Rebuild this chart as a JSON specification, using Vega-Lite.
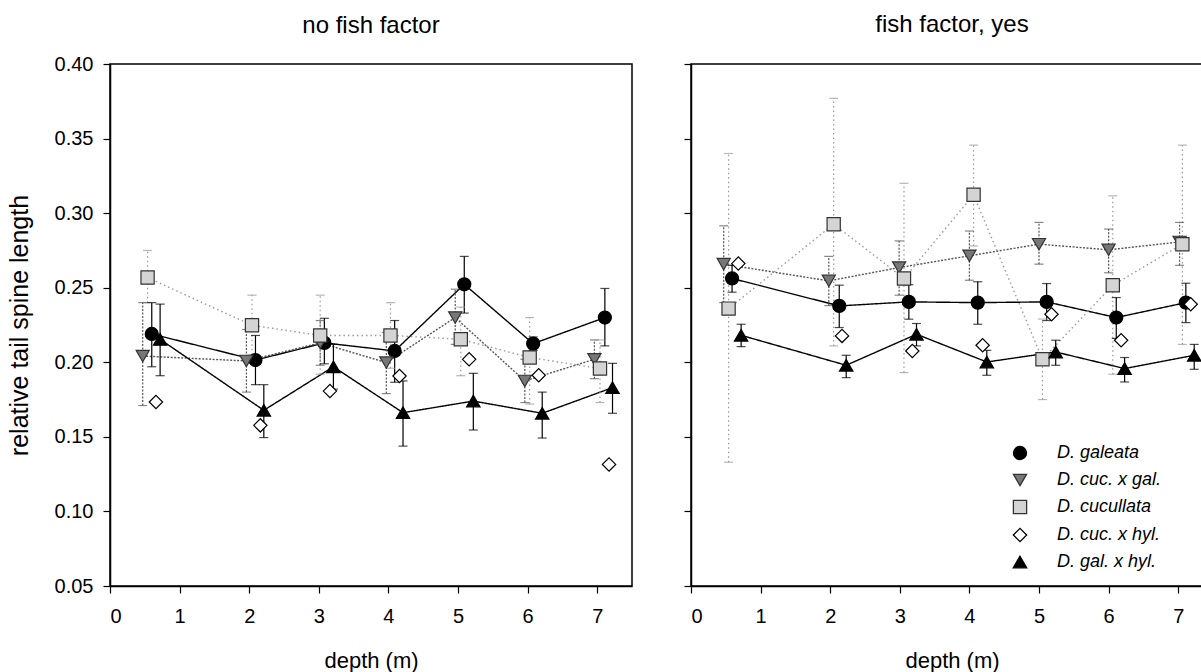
{
  "$schema": "https://vega.github.io/schema/vega-lite/v6.json",
  "padding": {"left": 6, "top": 12, "right": 0, "bottom": 0},
  "background": "white",
  "config": {
    "font": "Liberation Sans",
    "view": {"stroke": "black", "strokeWidth": 1.5},
    "axis": {"domainColor": "black", "domainWidth": 1.5, "tickColor": "black", "tickWidth": 1.2, "tickSize": 7, "labelFontSize": 20, "labelColor": "black", "labelFont": "Liberation Sans", "titleFont": "Liberation Sans", "titleFontWeight": "normal", "titleColor": "black", "grid": false},
    "axisX": {"labelPadding": 13, "titlePadding": 24, "titleFontSize": 22},
    "axisY": {"labelPadding": 10, "titlePadding": 22, "titleFontSize": 25},
    "title": {"fontSize": 24, "fontWeight": "normal", "font": "Liberation Sans", "anchor": "middle", "color": "black"}
  },
  "datasets": {
    "d": [
      {"panel": "no", "species": "D. galeata", "depth": 0.60, "value": 0.219, "lo": 0.197, "hi": 0.240},
      {"panel": "no", "species": "D. galeata", "depth": 2.09, "value": 0.2015, "lo": 0.185, "hi": 0.218},
      {"panel": "no", "species": "D. galeata", "depth": 3.08, "value": 0.213, "lo": 0.199, "hi": 0.2295},
      {"panel": "no", "species": "D. galeata", "depth": 4.09, "value": 0.2076, "lo": 0.1866, "hi": 0.228},
      {"panel": "no", "species": "D. galeata", "depth": 5.09, "value": 0.2523, "lo": 0.233, "hi": 0.271},
      {"panel": "no", "species": "D. galeata", "depth": 6.08, "value": 0.2125, "lo": 0.208, "hi": 0.217},
      {"panel": "no", "species": "D. galeata", "depth": 7.11, "value": 0.230, "lo": 0.211, "hi": 0.2495},
      {"panel": "no", "species": "D. cuc. x gal.", "depth": 0.47, "value": 0.2042, "lo": 0.171, "hi": 0.240},
      {"panel": "no", "species": "D. cuc. x gal.", "depth": 1.96, "value": 0.2009, "lo": 0.180, "hi": 0.222},
      {"panel": "no", "species": "D. cuc. x gal.", "depth": 3.02, "value": 0.213, "lo": 0.198, "hi": 0.228},
      {"panel": "no", "species": "D. cuc. x gal.", "depth": 3.97, "value": 0.1998, "lo": 0.179, "hi": 0.220},
      {"panel": "no", "species": "D. cuc. x gal.", "depth": 4.96, "value": 0.230, "lo": 0.212, "hi": 0.249},
      {"panel": "no", "species": "D. cuc. x gal.", "depth": 5.96, "value": 0.1875, "lo": 0.173, "hi": 0.202},
      {"panel": "no", "species": "D. cuc. x gal.", "depth": 6.96, "value": 0.202, "lo": 0.189, "hi": 0.215},
      {"panel": "no", "species": "D. cucullata", "depth": 0.54, "value": 0.2568, "lo": 0.240, "hi": 0.275},
      {"panel": "no", "species": "D. cucullata", "depth": 2.04, "value": 0.2248, "lo": 0.205, "hi": 0.245},
      {"panel": "no", "species": "D. cucullata", "depth": 3.02, "value": 0.218, "lo": 0.192, "hi": 0.245},
      {"panel": "no", "species": "D. cucullata", "depth": 4.03, "value": 0.218, "lo": 0.196, "hi": 0.240},
      {"panel": "no", "species": "D. cucullata", "depth": 5.04, "value": 0.2154, "lo": 0.191, "hi": 0.237},
      {"panel": "no", "species": "D. cucullata", "depth": 6.03, "value": 0.2032, "lo": 0.172, "hi": 0.230},
      {"panel": "no", "species": "D. cucullata", "depth": 7.04, "value": 0.1958, "lo": 0.173, "hi": 0.215},
      {"panel": "no", "species": "D. cuc. x hyl.", "depth": 0.66, "value": 0.1734, "lo": null, "hi": null},
      {"panel": "no", "species": "D. cuc. x hyl.", "depth": 2.16, "value": 0.1577, "lo": null, "hi": null},
      {"panel": "no", "species": "D. cuc. x hyl.", "depth": 3.16, "value": 0.1807, "lo": null, "hi": null},
      {"panel": "no", "species": "D. cuc. x hyl.", "depth": 4.16, "value": 0.1908, "lo": null, "hi": null},
      {"panel": "no", "species": "D. cuc. x hyl.", "depth": 5.16, "value": 0.202, "lo": null, "hi": null},
      {"panel": "no", "species": "D. cuc. x hyl.", "depth": 6.16, "value": 0.1913, "lo": null, "hi": null},
      {"panel": "no", "species": "D. cuc. x hyl.", "depth": 7.17, "value": 0.1315, "lo": null, "hi": null},
      {"panel": "no", "species": "D. gal. x hyl.", "depth": 0.72, "value": 0.2154, "lo": 0.191, "hi": 0.239},
      {"panel": "no", "species": "D. gal. x hyl.", "depth": 2.21, "value": 0.1678, "lo": 0.1495, "hi": 0.185},
      {"panel": "no", "species": "D. gal. x hyl.", "depth": 3.21, "value": 0.197, "lo": 0.182, "hi": 0.212},
      {"panel": "no", "species": "D. gal. x hyl.", "depth": 4.21, "value": 0.1662, "lo": 0.1438, "hi": 0.1875},
      {"panel": "no", "species": "D. gal. x hyl.", "depth": 5.22, "value": 0.174, "lo": 0.1546, "hi": 0.1926},
      {"panel": "no", "species": "D. gal. x hyl.", "depth": 6.21, "value": 0.1658, "lo": 0.1492, "hi": 0.180},
      {"panel": "no", "species": "D. gal. x hyl.", "depth": 7.22, "value": 0.183, "lo": 0.1658, "hi": 0.1993},
      {"panel": "yes", "species": "D. galeata", "depth": 0.59, "value": 0.2562, "lo": 0.247, "hi": 0.265},
      {"panel": "yes", "species": "D. galeata", "depth": 2.13, "value": 0.2378, "lo": 0.2233, "hi": 0.2517},
      {"panel": "yes", "species": "D. galeata", "depth": 3.13, "value": 0.2405, "lo": 0.2289, "hi": 0.252},
      {"panel": "yes", "species": "D. galeata", "depth": 4.12, "value": 0.240, "lo": 0.2255, "hi": 0.254},
      {"panel": "yes", "species": "D. galeata", "depth": 5.11, "value": 0.2405, "lo": 0.228, "hi": 0.2528},
      {"panel": "yes", "species": "D. galeata", "depth": 6.11, "value": 0.230, "lo": 0.216, "hi": 0.2434},
      {"panel": "yes", "species": "D. galeata", "depth": 7.11, "value": 0.240, "lo": 0.2266, "hi": 0.253},
      {"panel": "yes", "species": "D. cuc. x gal.", "depth": 0.47, "value": 0.2658, "lo": 0.240, "hi": 0.2915},
      {"panel": "yes", "species": "D. cuc. x gal.", "depth": 1.98, "value": 0.2546, "lo": 0.238, "hi": 0.271},
      {"panel": "yes", "species": "D. cuc. x gal.", "depth": 2.99, "value": 0.2635, "lo": 0.245, "hi": 0.2814},
      {"panel": "yes", "species": "D. cuc. x gal.", "depth": 4.00, "value": 0.2714, "lo": 0.255, "hi": 0.288},
      {"panel": "yes", "species": "D. cuc. x gal.", "depth": 5.00, "value": 0.2792, "lo": 0.2658, "hi": 0.2938},
      {"panel": "yes", "species": "D. cuc. x gal.", "depth": 6.00, "value": 0.2754, "lo": 0.260, "hi": 0.2893},
      {"panel": "yes", "species": "D. cuc. x gal.", "depth": 7.02, "value": 0.2807, "lo": 0.265, "hi": 0.2938},
      {"panel": "yes", "species": "D. cucullata", "depth": 0.54, "value": 0.236, "lo": 0.133, "hi": 0.340},
      {"panel": "yes", "species": "D. cucullata", "depth": 2.05, "value": 0.2926, "lo": 0.211, "hi": 0.377},
      {"panel": "yes", "species": "D. cucullata", "depth": 3.06, "value": 0.2562, "lo": 0.1931, "hi": 0.320},
      {"panel": "yes", "species": "D. cucullata", "depth": 4.06, "value": 0.3123, "lo": 0.278, "hi": 0.3456},
      {"panel": "yes", "species": "D. cucullata", "depth": 5.05, "value": 0.202, "lo": 0.175, "hi": 0.229},
      {"panel": "yes", "species": "D. cucullata", "depth": 6.06, "value": 0.2517, "lo": 0.192, "hi": 0.3116},
      {"panel": "yes", "species": "D. cucullata", "depth": 7.06, "value": 0.2792, "lo": 0.212, "hi": 0.3456},
      {"panel": "yes", "species": "D. cuc. x hyl.", "depth": 0.68, "value": 0.2662, "lo": null, "hi": null},
      {"panel": "yes", "species": "D. cuc. x hyl.", "depth": 2.17, "value": 0.2177, "lo": null, "hi": null},
      {"panel": "yes", "species": "D. cuc. x hyl.", "depth": 3.18, "value": 0.2076, "lo": null, "hi": null},
      {"panel": "yes", "species": "D. cuc. x hyl.", "depth": 4.19, "value": 0.2114, "lo": null, "hi": null},
      {"panel": "yes", "species": "D. cuc. x hyl.", "depth": 5.18, "value": 0.2322, "lo": null, "hi": null},
      {"panel": "yes", "species": "D. cuc. x hyl.", "depth": 6.18, "value": 0.2148, "lo": null, "hi": null},
      {"panel": "yes", "species": "D. cuc. x hyl.", "depth": 7.18, "value": 0.2389, "lo": null, "hi": null},
      {"panel": "yes", "species": "D. gal. x hyl.", "depth": 0.72, "value": 0.2181, "lo": 0.2105, "hi": 0.2255},
      {"panel": "yes", "species": "D. gal. x hyl.", "depth": 2.23, "value": 0.198, "lo": 0.1897, "hi": 0.2047},
      {"panel": "yes", "species": "D. gal. x hyl.", "depth": 3.24, "value": 0.2188, "lo": 0.211, "hi": 0.226},
      {"panel": "yes", "species": "D. gal. x hyl.", "depth": 4.25, "value": 0.2002, "lo": 0.1913, "hi": 0.208},
      {"panel": "yes", "species": "D. gal. x hyl.", "depth": 5.24, "value": 0.2069, "lo": 0.198, "hi": 0.2148},
      {"panel": "yes", "species": "D. gal. x hyl.", "depth": 6.23, "value": 0.1958, "lo": 0.1868, "hi": 0.2032},
      {"panel": "yes", "species": "D. gal. x hyl.", "depth": 7.23, "value": 0.2047, "lo": 0.1953, "hi": 0.212}
    ]
  },
  "spacing": 49,
  "resolve": {
    "scale": {"shape": "independent", "fill": "independent", "stroke": "independent", "size": "independent", "color": "independent", "strokeDash": "independent"},
    "legend": {"shape": "independent", "fill": "independent", "stroke": "independent", "size": "independent", "color": "independent", "strokeDash": "independent"}
  },
  "hconcat": [
    {
      "width": 522, "height": 522,
      "title": {"text": "no fish factor", "offset": 16},
      "data": {"name": "d"},
      "transform": [{"filter": "datum.panel === 'no'"}],
      "encoding": {
        "x": {"field": "depth", "type": "quantitative", "scale": {"domain": [0, 7.5], "nice": false, "zero": false}, "axis": {"values": [0, 1, 2, 3, 4, 5, 6, 7], "format": "d", "title": "depth (m)"}}
      },
      "layer": [
        {
          "transform": [{"filter": "datum.species !== 'D. cuc. x hyl.'"}],
          "mark": {"type": "line", "strokeWidth": 1.4},
          "encoding": {
            "y": {"field": "value", "type": "quantitative", "scale": {"domain": [0.05, 0.4], "nice": false, "zero": false}, "axis": {"values": [0.05, 0.1, 0.15, 0.2, 0.25, 0.3, 0.35, 0.4], "format": ".2f", "title": "relative tail spine length"}},
            "color": {"field": "species", "type": "nominal", "scale": {"domain": ["D. galeata", "D. cuc. x gal.", "D. cucullata", "D. gal. x hyl."], "range": ["#000000", "#555555", "#999999", "#000000"]}, "legend": null},
            "strokeDash": {"field": "species", "type": "nominal", "scale": {"domain": ["D. galeata", "D. cuc. x gal.", "D. cucullata", "D. gal. x hyl."], "range": [[1, 0], [2, 1.5], [1.5, 3], [1, 0]]}, "legend": null}
          }
        },
        {
          "transform": [{"filter": "datum.lo != null"}],
          "mark": {"type": "rule", "strokeWidth": 1.2},
          "encoding": {
            "y": {"field": "lo", "type": "quantitative", "scale": {"domain": [0.05, 0.4], "nice": false, "zero": false}, "axis": {"values": [0.05, 0.1, 0.15, 0.2, 0.25, 0.3, 0.35, 0.4], "format": ".2f", "title": "relative tail spine length"}},
            "y2": {"field": "hi"},
            "color": {"field": "species", "type": "nominal", "legend": null},
            "strokeDash": {"field": "species", "type": "nominal", "legend": null}
          }
        },
        {
          "transform": [{"filter": "datum.lo != null"}],
          "mark": {"type": "tick", "orient": "horizontal", "size": 9, "thickness": 1.2},
          "encoding": {
            "y": {"field": "lo", "type": "quantitative", "scale": {"domain": [0.05, 0.4], "nice": false, "zero": false}, "axis": {"values": [0.05, 0.1, 0.15, 0.2, 0.25, 0.3, 0.35, 0.4], "format": ".2f", "title": "relative tail spine length"}},
            "color": {"field": "species", "type": "nominal", "legend": null}
          }
        },
        {
          "transform": [{"filter": "datum.lo != null"}],
          "mark": {"type": "tick", "orient": "horizontal", "size": 9, "thickness": 1.2},
          "encoding": {
            "y": {"field": "hi", "type": "quantitative", "scale": {"domain": [0.05, 0.4], "nice": false, "zero": false}, "axis": {"values": [0.05, 0.1, 0.15, 0.2, 0.25, 0.3, 0.35, 0.4], "format": ".2f", "title": "relative tail spine length"}},
            "color": {"field": "species", "type": "nominal", "legend": null}
          }
        },
        {
          "mark": {"type": "point", "strokeWidth": 1.2, "opacity": 1, "filled": true},
          "encoding": {
            "y": {"field": "value", "type": "quantitative", "scale": {"domain": [0.05, 0.4], "nice": false, "zero": false}, "axis": {"values": [0.05, 0.1, 0.15, 0.2, 0.25, 0.3, 0.35, 0.4], "format": ".2f", "title": "relative tail spine length"}},
            "shape": {"field": "species", "type": "nominal", "scale": {"domain": ["D. galeata", "D. cuc. x gal.", "D. cucullata", "D. cuc. x hyl.", "D. gal. x hyl."], "range": ["circle", "triangle-down", "square", "diamond", "triangle-up"]}, "legend": null},
            "size": {"field": "species", "type": "nominal", "scale": {"domain": ["D. galeata", "D. cuc. x gal.", "D. cucullata", "D. cuc. x hyl.", "D. gal. x hyl."], "range": [170, 180, 144, 225, 180]}, "legend": null},
            "fill": {"field": "species", "type": "nominal", "scale": {"domain": ["D. galeata", "D. cuc. x gal.", "D. cucullata", "D. cuc. x hyl.", "D. gal. x hyl."], "range": ["#000000", "#777777", "#d4d4d4", "#ffffff", "#000000"]}, "legend": null},
            "stroke": {"field": "species", "type": "nominal", "scale": {"domain": ["D. galeata", "D. cuc. x gal.", "D. cucullata", "D. cuc. x hyl.", "D. gal. x hyl."], "range": ["#000000", "#333333", "#333333", "#000000", "#000000"]}, "legend": null}
          }
        }
      ]
    },
    {
      "width": 522, "height": 522,
      "title": {"text": "fish factor, yes", "offset": 26},
      "data": {"name": "d"},
      "transform": [{"filter": "datum.panel === 'yes'"}],
      "encoding": {
        "x": {"field": "depth", "type": "quantitative", "scale": {"domain": [0, 7.5], "nice": false, "zero": false}, "axis": {"values": [0, 1, 2, 3, 4, 5, 6, 7], "format": "d", "title": "depth (m)"}}
      },
      "layer": [
        {
          "transform": [{"filter": "datum.species !== 'D. cuc. x hyl.'"}],
          "mark": {"type": "line", "strokeWidth": 1.4},
          "encoding": {
            "y": {"field": "value", "type": "quantitative", "scale": {"domain": [0.05, 0.4], "nice": false, "zero": false}, "axis": {"values": [0.05, 0.1, 0.15, 0.2, 0.25, 0.3, 0.35, 0.4], "labels": false, "title": null}},
            "color": {"field": "species", "type": "nominal", "scale": {"domain": ["D. galeata", "D. cuc. x gal.", "D. cucullata", "D. gal. x hyl."], "range": ["#000000", "#555555", "#999999", "#000000"]}, "legend": null},
            "strokeDash": {"field": "species", "type": "nominal", "scale": {"domain": ["D. galeata", "D. cuc. x gal.", "D. cucullata", "D. gal. x hyl."], "range": [[1, 0], [2, 1.5], [1.5, 3], [1, 0]]}, "legend": null}
          }
        },
        {
          "transform": [{"filter": "datum.lo != null"}],
          "mark": {"type": "rule", "strokeWidth": 1.2},
          "encoding": {
            "y": {"field": "lo", "type": "quantitative", "scale": {"domain": [0.05, 0.4], "nice": false, "zero": false}, "axis": {"values": [0.05, 0.1, 0.15, 0.2, 0.25, 0.3, 0.35, 0.4], "labels": false, "title": null}},
            "y2": {"field": "hi"},
            "color": {"field": "species", "type": "nominal", "legend": null},
            "strokeDash": {"field": "species", "type": "nominal", "legend": null}
          }
        },
        {
          "transform": [{"filter": "datum.lo != null"}],
          "mark": {"type": "tick", "orient": "horizontal", "size": 9, "thickness": 1.2},
          "encoding": {
            "y": {"field": "lo", "type": "quantitative", "scale": {"domain": [0.05, 0.4], "nice": false, "zero": false}, "axis": {"values": [0.05, 0.1, 0.15, 0.2, 0.25, 0.3, 0.35, 0.4], "labels": false, "title": null}},
            "color": {"field": "species", "type": "nominal", "legend": null}
          }
        },
        {
          "transform": [{"filter": "datum.lo != null"}],
          "mark": {"type": "tick", "orient": "horizontal", "size": 9, "thickness": 1.2},
          "encoding": {
            "y": {"field": "hi", "type": "quantitative", "scale": {"domain": [0.05, 0.4], "nice": false, "zero": false}, "axis": {"values": [0.05, 0.1, 0.15, 0.2, 0.25, 0.3, 0.35, 0.4], "labels": false, "title": null}},
            "color": {"field": "species", "type": "nominal", "legend": null}
          }
        },
        {
          "mark": {"type": "point", "strokeWidth": 1.2, "opacity": 1, "filled": true},
          "encoding": {
            "y": {"field": "value", "type": "quantitative", "scale": {"domain": [0.05, 0.4], "nice": false, "zero": false}, "axis": {"values": [0.05, 0.1, 0.15, 0.2, 0.25, 0.3, 0.35, 0.4], "labels": false, "title": null}},
            "shape": {"field": "species", "type": "nominal", "scale": {"domain": ["D. galeata", "D. cuc. x gal.", "D. cucullata", "D. cuc. x hyl.", "D. gal. x hyl."], "range": ["circle", "triangle-down", "square", "diamond", "triangle-up"]},
              "legend": {"title": null, "orient": "none", "legendX": 320, "legendY": 380, "padding": 0, "labelFontSize": 18, "labelFontStyle": "italic", "labelFont": "Liberation Sans", "labelColor": "black", "labelOffset": 28, "rowPadding": 8, "symbolStrokeWidth": 1.3}},
            "size": {"field": "species", "type": "nominal", "scale": {"domain": ["D. galeata", "D. cuc. x gal.", "D. cucullata", "D. cuc. x hyl.", "D. gal. x hyl."], "range": [170, 180, 144, 225, 180]}},
            "fill": {"field": "species", "type": "nominal", "scale": {"domain": ["D. galeata", "D. cuc. x gal.", "D. cucullata", "D. cuc. x hyl.", "D. gal. x hyl."], "range": ["#000000", "#777777", "#d4d4d4", "#ffffff", "#000000"]}},
            "stroke": {"field": "species", "type": "nominal", "scale": {"domain": ["D. galeata", "D. cuc. x gal.", "D. cucullata", "D. cuc. x hyl.", "D. gal. x hyl."], "range": ["#000000", "#333333", "#333333", "#000000", "#000000"]}}
          }
        }
      ]
    }
  ]
}
